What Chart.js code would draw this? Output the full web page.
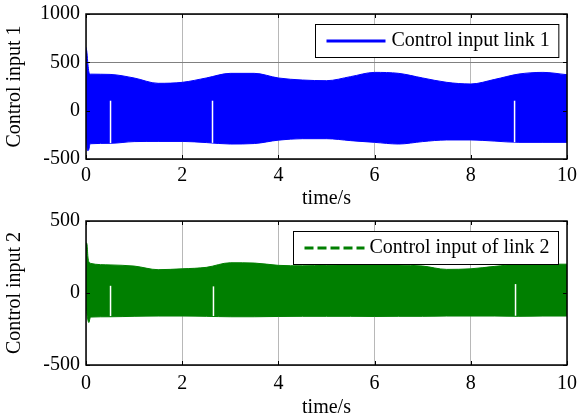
<!DOCTYPE html>
<html>
<head>
<meta charset="utf-8">
<script src="https://cdn.jsdelivr.net/npm/chart.js@4.4.1/dist/chart.umd.min.js"></script>
<style>
html, body { margin: 0; padding: 0; background: #fff; }
#wrap { position: relative; width: 578px; height: 418px; }
canvas { position: absolute; left: 0; }
#c1 { top: 0; }
#c2 { top: 209px; }
</style>
</head>
<body>
<div id="wrap">
  <canvas id="c1" width="578" height="209"></canvas>
  <canvas id="c2" width="578" height="209"></canvas>
</div>
<script>
var t = [0, 0.02, 0.04, 0.06, 0.08, 0.1, 0.5, 1, 1.5, 2, 2.5, 3, 3.5, 4, 4.5, 5, 5.5, 6, 6.5, 7, 7.5, 8, 8.5, 9, 9.5, 10];

// link 1: upper / lower envelope of the control input
var upper1 = [655, 600, 480, 400, 380, 378, 375, 338, 283, 293, 338, 386, 386, 338, 317, 310, 352, 396, 386, 338, 293, 276, 324, 379, 396, 372];
var lower1 = [-100, -380, -414, -400, -350, -342, -338, -320, -318, -318, -330, -345, -340, -305, -290, -290, -310, -328, -345, -320, -303, -303, -315, -328, -328, -328];

// link 2
var upper2 = [349, 340, 250, 215, 210, 205, 195, 187, 162, 168, 178, 210, 208, 192, 189, 192, 196, 199, 195, 187, 164, 168, 185, 199, 200, 200];
var lower2 = [-50, -150, -190, -205, -180, -167, -165, -162, -160, -160, -162, -165, -165, -163, -162, -162, -162, -163, -162, -162, -160, -160, -160, -162, -160, -160];

// thin white gaps in the band
var gapT1 = [0.51, 2.63, 8.91];
var gapTop1 = [103, 103, 103];
var gapBot1 = [-336, -333, -326];
var gapT2 = [0.51, 2.65, 8.93];
var gapTop2 = [50, 46, 62];
var gapBot2 = [-160, -160, -158];

var xTicks = [0, 2, 4, 6, 8, 10];
var yTicks1 = [-500, 0, 500, 1000];
var yTicks2 = [-500, 0, 500];

var FONT = '"Liberation Serif", "Times New Roman", serif';
var FS = 20;

function pts(xs, ys) {
    var arr = [];
    for (var i = 0; i < xs.length; i++) arr.push({ x: xs[i], y: ys[i] });
    return arr;
}

function gapSets(xs, tops, bots) {
    var sets = [];
    for (var i = 0; i < xs.length; i++) {
        sets.push({
            data: [{ x: xs[i], y: tops[i] }, { x: xs[i], y: bots[i] }],
            borderColor: '#ffffff', borderWidth: 1.5, pointRadius: 0, fill: false, order: 0
        });
    }
    return sets;
}

// MATLAB-ish frame, inward ticks and boxed legend
var matlabBox = {
    id: 'matlabBox',
    afterDraw: function(chart, args, opts) {
        var a = chart.chartArea, ctx = chart.ctx;
        var xs = chart.scales.x, ys = chart.scales.y;
        ctx.save();
        ctx.strokeStyle = '#000';
        ctx.lineWidth = 1.5;
        ctx.strokeRect(a.left, a.top, a.right - a.left, a.bottom - a.top);
        ctx.lineWidth = 1;
        ctx.beginPath();
        xTicks.forEach(function(v) {
            var px = Math.round(xs.getPixelForValue(v)) + 0.5;
            ctx.moveTo(px, a.bottom); ctx.lineTo(px, a.bottom - 4);
            ctx.moveTo(px, a.top); ctx.lineTo(px, a.top + 4);
        });
        opts.yTicks.forEach(function(v) {
            var py = Math.round(ys.getPixelForValue(v)) + 0.5;
            ctx.moveTo(a.left, py); ctx.lineTo(a.left + 4, py);
            ctx.moveTo(a.right, py); ctx.lineTo(a.right - 4, py);
        });
        ctx.stroke();

        // legend
        var lg = opts.legend;
        ctx.font = FS + 'px ' + FONT;
        var tw = ctx.measureText(lg.text).width;
        var bw = 11 + lg.lineLen + lg.gap + tw + 9, bh = 33;
        var bx = Math.round(a.right - 9 - bw) + 0.5, by = Math.round(a.top + 10) + 0.5;
        ctx.fillStyle = '#fff';
        ctx.fillRect(bx, by, bw, bh);
        ctx.strokeStyle = '#000';
        ctx.lineWidth = 1;
        ctx.strokeRect(bx, by, bw, bh);
        var ly = by + bh / 2;
        ctx.beginPath();
        ctx.setLineDash(lg.dash);
        ctx.strokeStyle = lg.color;
        ctx.lineWidth = 3;
        ctx.moveTo(bx + 11, ly); ctx.lineTo(bx + 11 + lg.lineLen, ly);
        ctx.stroke();
        ctx.setLineDash([]);
        ctx.fillStyle = '#000';
        ctx.textBaseline = 'middle';
        ctx.textAlign = 'left';
        ctx.fillText(lg.text, bx + 11 + lg.lineLen + lg.gap, ly);
        ctx.restore();
    }
};

function makeChart(id, upper, lower, color, gx, gt, gb, ymin, ymax, yTicks, yTitle, padTop, xH, xPad, legend) {
    var datasets = [
        { data: pts(t, upper), borderColor: color, backgroundColor: color, borderWidth: 1, pointRadius: 0, fill: '+1', order: 2 },
        { data: pts(t, lower), borderColor: color, borderWidth: 1, pointRadius: 0, fill: false, order: 2 }
    ].concat(gapSets(gx, gt, gb));

    return new Chart(document.getElementById(id).getContext('2d'), {
        type: 'line',
        data: { datasets: datasets },
        options: {
            responsive: false,
            animation: false,
            layout: { padding: { top: padTop, right: 11, left: 0, bottom: 0 } },
            elements: { line: { cubicInterpolationMode: 'monotone' } },
            plugins: {
                legend: { display: false },
                tooltip: { enabled: false },
                matlabBox: { yTicks: yTicks, legend: legend }
            },
            scales: {
                x: {
                    type: 'linear', min: 0, max: 10,
                    afterBuildTicks: function(s) { s.ticks = xTicks.map(function(v) { return { value: v }; }); },
                    afterFit: function(s) { s.height = xH; s.paddingLeft = 0; s.paddingRight = 0; },
                    grid: { color: '#b8b8b8', drawTicks: false },
                    border: { display: false },
                    ticks: { color: '#000', font: { family: FONT, size: FS }, padding: xPad, maxRotation: 0,
                             callback: function(v) { return String(v); } },
                    title: { display: true, text: 'time/s', color: '#000', font: { family: FONT, size: FS, lineHeight: 1 }, padding: 0 }
                },
                y: {
                    type: 'linear', min: ymin, max: ymax,
                    afterBuildTicks: function(s) { s.ticks = yTicks.map(function(v) { return { value: v }; }); },
                    afterFit: function(s) { s.width = 86; s.paddingTop = 0; s.paddingBottom = 0; },
                    grid: { color: '#808080', drawTicks: false },
                    border: { display: false },
                    ticks: { color: '#000', font: { family: FONT, size: FS }, padding: 6,
                             callback: function(v) { return String(v); } },
                    title: { display: true, text: yTitle, color: '#000', font: { family: FONT, size: FS, lineHeight: 1.2 }, padding: { top: 3, bottom: 0 } }
                }
            }
        },
        plugins: [matlabBox]
    });
}

makeChart('c1', upper1, lower1, '#0000ff', gapT1, gapTop1, gapBot1, -500, 1000, yTicks1, 'Control input 1', 14, 50, 5,
    { text: 'Control input link 1', color: '#0000ff', dash: [], lineLen: 59, gap: 6 });
makeChart('c2', upper2, lower2, '#007f00', gapT2, gapTop2, gapBot2, -500, 500, yTicks2, 'Control input 2', 12, 53, 7,
    { text: 'Control input of link 2', color: '#007f00', dash: [9, 4], lineLen: 60, gap: 5 });
</script>
</body>
</html>
